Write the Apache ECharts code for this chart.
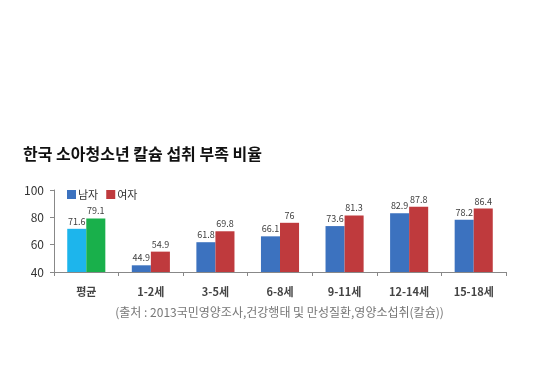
<!DOCTYPE html>
<html><head><meta charset="utf-8">
<script src="https://cdn.jsdelivr.net/npm/echarts@6/dist/echarts.min.js"></script>
<style>html,body{margin:0;padding:0;background:#fff;}#c{width:559px;height:370px;}</style>
</head><body><div id="c"></div>
<script>
const categories = ['평균','1-2세','3-5세','6-8세','9-11세','12-14세','15-18세'];
const male = [71.6,44.9,61.8,66.1,73.6,82.9,78.2];
const female = [79.1,54.9,69.8,76,81.3,87.8,86.4];
const yTicks = [40,60,80,100];
const titleText = '한국 소아청소년 칼슘 섭취 부족 비율';
const sourceText = '(출처 : 2013국민영양조사,건강행태 및 만성질환,영양소섭취(칼슘))';

const MALE_C = '#3C72BF', FEMALE_C = '#BF3A3D';
const AVG_M = '#1DB5EC', AVG_F = '#19B04B';
const font = '"Noto Sans CJK KR", sans-serif';
const chart = echarts.init(document.getElementById('c'), null, {renderer:'canvas'});
const lbl = {show:true, position:'top', distance:3, fontSize:9, color:'#404040', fontFamily:font};
chart.setOption({
  animation:false,
  title:[{text:titleText, left:18, top:141, textStyle:{fontSize:16, fontWeight:'bold', color:'#111', fontFamily:font}},
         {text:sourceText, left:'center', top:301, textStyle:{fontSize:12, fontWeight:'normal', color:'#777', fontFamily:font}}],
  legend:{left:62, top:184, itemWidth:9, itemHeight:9, itemGap:8, icon:'rect',
    textStyle:{fontSize:11, color:'#333', fontFamily:font, padding:[0,0,0,-3]},
    data:[{name:'남자', itemStyle:{color:MALE_C}},{name:'여자', itemStyle:{color:FEMALE_C}}]},
  grid:{left:54, right:53, top:190, bottom:98},
  xAxis:{type:'category', data:categories, boundaryGap:true,
    axisLine:{lineStyle:{color:'#888'}}, axisTick:{show:true, alignWithLabel:false, length:4, lineStyle:{color:'#888'}},
    axisLabel:{fontSize:11, fontWeight:'bold', color:'#444', margin:14, fontFamily:font}},
  yAxis:{type:'value', min:40, max:100, interval:20, splitLine:{show:false},
    axisLine:{show:true, lineStyle:{color:'#888'}}, axisTick:{show:true, length:4, lineStyle:{color:'#888'}},
    axisLabel:{fontSize:12, color:'#333', margin:10, fontFamily:font,
      formatter:v=>yTicks.includes(v)?String(v):''}},
  series:[
    {name:'남자', type:'bar', barGap:'0%', barCategoryGap:'41%', itemStyle:{color:MALE_C}, label:lbl,
     data:male.map((v,i)=>i===0?{value:v,itemStyle:{color:AVG_M}}:v)},
    {name:'여자', type:'bar', itemStyle:{color:FEMALE_C}, label:lbl,
     data:female.map((v,i)=>i===0?{value:v,itemStyle:{color:AVG_F}}:v)}
  ]
});
</script></body></html>
